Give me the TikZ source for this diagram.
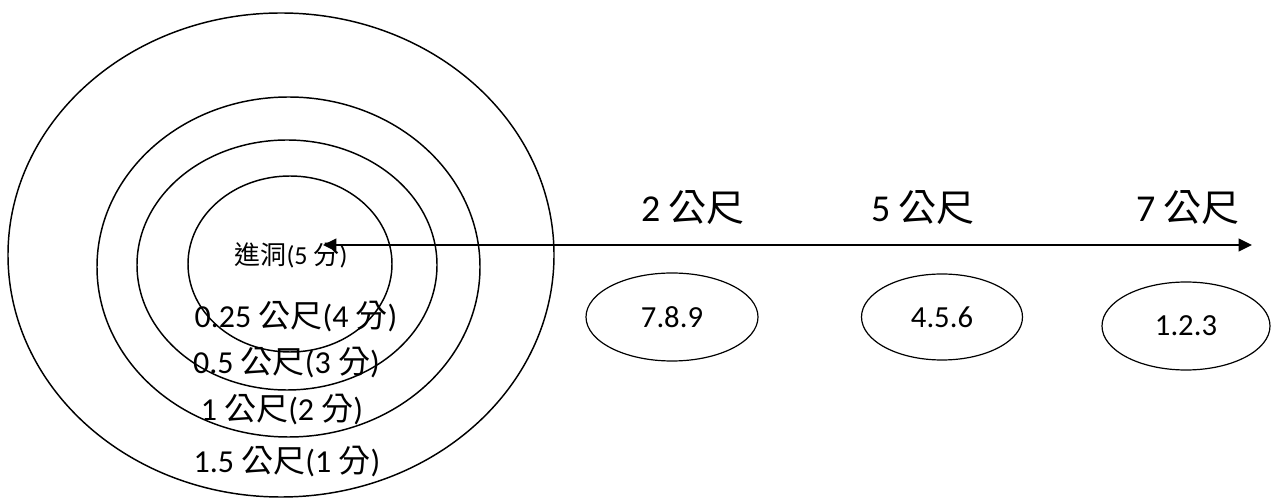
\documentclass[tikz,border=0pt]{standalone}
\usepackage{fontspec}
\setmainfont{Carlito}
\newfontfamily\zhfont{Noto Sans CJK TC}
\newcommand{\zh}[1]{{\zhfont #1}}
\usetikzlibrary{shapes.geometric, arrows.meta}

\begin{document}
\begin{tikzpicture}[x=0.75pt, y=-0.75pt,
        ring/.style={ellipse, draw, line width=1.1pt, inner sep=0pt},
        ov/.style={ellipse, draw, line width=0.9pt, inner sep=0pt, font=\fontsize{23}{26}\selectfont},
        lbl/.style={inner sep=0pt, font=\fontsize{24}{27}\selectfont},
        dist/.style={inner sep=0pt, font=\fontsize{28.5}{31}\selectfont},
        fl/.style={{Triangle[length=10pt,width=9.5pt]}-{Triangle[length=10pt,width=9.5pt]}, line width=1.5pt}]
    \useasboundingbox (0,0) rectangle (1274,498);
    % target rings
    \foreach \n/\x/\y/\w/\h in {r4/281/255/409.5/363, r3/288.5/267/287.25/255, r2/287/265/225/187.5, r1/290/264/153/132}
        \node[ring, minimum width=\w pt, minimum height=\h pt] (\n) at (\x,\y) {};
    \node[inner sep=0pt, font=\fontsize{19.5}{22}\selectfont] (hole) at (291,255) {\zh{進洞}(5 \zh{分})};
    \node[lbl] (l1) at (296,317) {0.25 \zh{公尺}(4 \zh{分})};
    \node[lbl] (l2) at (286.5,363) {0.5 \zh{公尺}(3 \zh{分})};
    \node[lbl] (l3) at (282,410) {1 \zh{公尺}(2 \zh{分})};
    \node[lbl] (l4) at (287,462) {1.5 \zh{公尺}(1 \zh{分})};
    % distances
    \node[dist] (d2) at (693,208) {2 \zh{公尺}};
    \node[dist] (d5) at (923,208) {5 \zh{公尺}};
    \node[dist] (d7) at (1188,208) {7 \zh{公尺}};
    \node[ov, minimum width=129pt, minimum height=66pt] (s789) at (672,317) {7.8.9};
    \node[ov, minimum width=120.75pt, minimum height=64.5pt] (s456) at (942,317) {4.5.6};
    \node[ov, minimum width=126pt, minimum height=66pt] (s123) at (1186,326) {1.2.3};
    \coordinate (tip) at (323,245);
    \coordinate (far) at (1252,245);
    \draw[fl] (tip) -- (far);
\end{tikzpicture}
\end{document}
